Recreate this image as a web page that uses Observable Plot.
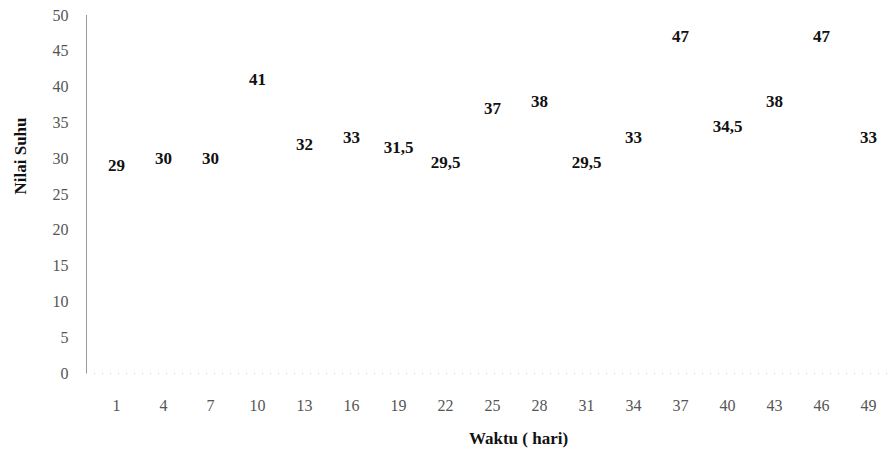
<!DOCTYPE html>
<html>
<head>
<meta charset="utf-8">
<script src="https://cdn.jsdelivr.net/npm/d3@7"></script>
<script src="https://cdn.jsdelivr.net/npm/@observablehq/plot@0.6"></script>
<style>
  html, body { margin: 0; padding: 0; background: #fff; }
  svg { display: block; }
  svg text { font-family: "Liberation Serif", "DejaVu Serif", serif; }
</style>
</head>
<body>
<div id="chart"></div>
<script>
// Days (x categories)
const days = [1, 4, 7, 10, 13, 16, 19, 22, 25, 28, 31, 34, 37, 40, 43, 46, 49];
// Temperature values (Nilai Suhu)
const values = [29, 30, 30, 41, 32, 33, 31.5, 29.5, 37, 38, 29.5, 33, 47, 34.5, 38, 47, 33];
// Y tick values
const yTicks = [0, 5, 10, 15, 20, 25, 30, 35, 40, 45, 50];

const data = days.map((d, i) => ({day: d, value: values[i], label: String(values[i]).replace(".", ",")}));

const chart = Plot.plot({
  width: 892,
  height: 456,
  marginLeft: 86,
  marginRight: 0,
  marginTop: 15,
  marginBottom: 83,
  style: {fontFamily: "Liberation Serif, serif", fontSize: "16px", color: "#444", background: "#fff"},
  x: {type: "point", domain: days, range: [110, 873], padding: 0, axis: null},
  y: {domain: [0, 50], range: [373, 15], axis: null},
  marks: [
    Plot.frame({anchor: "left", stroke: "#999", strokeDasharray: "2,1"}),
    Plot.ruleY([0], {stroke: "#ccc", strokeDasharray: "1,7"}),
    Plot.axisY(yTicks, {tickSize: 0, tickPadding: 18, fontSize: 16, fill: "#555", label: null}),
    Plot.axisX(days, {tickSize: 0, tickPadding: 26, fontSize: 16, fill: "#555", label: null}),
    Plot.text(data, {
      x: "day", y: "value", text: "label",
      fontWeight: "bold", fontSize: 17, fill: "#111"
    }),
    Plot.text(["Nilai Suhu"], {
      frameAnchor: "left", dx: -66, rotate: -90,
      fontWeight: "bold", fontSize: 17, fill: "#111"
    }),
    Plot.text(["Waktu ( hari)"], {
      frameAnchor: "bottom", dx: 29, dy: 70,
      fontWeight: "bold", fontSize: 17, fill: "#111"
    })
  ]
});
document.getElementById("chart").appendChild(chart);
</script>
</body>
</html>
